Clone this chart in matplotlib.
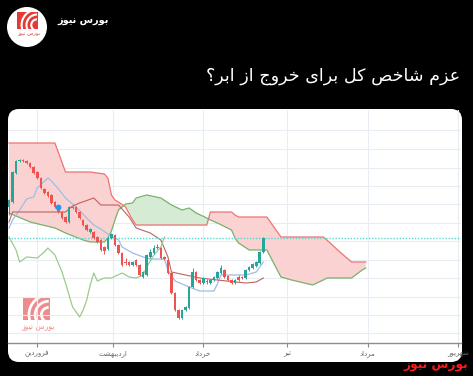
import numpy as np
import matplotlib
matplotlib.use("Agg")
import matplotlib.pyplot as plt
from matplotlib.patches import FancyBboxPatch, Circle, Rectangle, Wedge
from matplotlib.transforms import blended_transform_factory

# ---------------- data (index points, thousands) ----------------
opens = [1236, 1241, 1270, 1282, 1283, 1282, 1280, 1276, 1271, 1265, 1254, 1251, 1248, 1241, 1236, 1231,
         1226, 1221, 1236, 1236, 1231, 1223, 1218, 1211, 1211, 1206, 1203, 1196, 1194, 1205, 1208, 1198,
         1190, 1181, 1181, 1178, 1183, 1178, 1166, 1168, 1186, 1190, 1195, 1195, 1186, 1183, 1170, 1150,
         1133, 1125, 1133, 1135, 1156, 1171, 1163, 1160, 1161, 1160, 1163, 1165, 1170, 1173, 1167, 1163,
         1160, 1166, 1166, 1165, 1173, 1175, 1177, 1180, 1191]
closes = [1243, 1271, 1282, 1283, 1282, 1280, 1276, 1270, 1265, 1255, 1250, 1247, 1240, 1236, 1231, 1225,
          1221, 1236, 1235, 1231, 1225, 1218, 1213, 1214, 1205, 1201, 1193, 1192, 1205, 1209, 1198, 1190,
          1178, 1180, 1178, 1181, 1178, 1168, 1171, 1188, 1191, 1195, 1196, 1185, 1184, 1170, 1150, 1133,
          1125, 1133, 1136, 1156, 1171, 1163, 1160, 1165, 1161.5, 1163, 1166, 1171, 1175, 1166, 1163, 1160,
          1163, 1163, 1165, 1173, 1176, 1179, 1181, 1191, 1205]
highs = [1244, 1272, 1283, 1284, 1284, 1283, 1281, 1277, 1272, 1266, 1255, 1252, 1249, 1242, 1237, 1232,
         1227, 1237, 1237, 1237, 1232, 1224, 1219, 1215, 1212, 1207, 1204, 1197, 1206, 1210, 1209, 1199,
         1191, 1185, 1182, 1182, 1184, 1179, 1172, 1189, 1194, 1198, 1199, 1196, 1187, 1184, 1171, 1151,
         1134, 1134, 1137, 1157, 1175, 1172, 1164, 1166, 1164, 1164, 1167, 1172, 1178, 1174, 1168, 1164,
         1164, 1168, 1167, 1174, 1177, 1180, 1182, 1192, 1206]
lows = [1228, 1240, 1269, 1281, 1281, 1279, 1275, 1269, 1264, 1254, 1249, 1246, 1239, 1235, 1230, 1224,
        1220, 1220, 1234, 1230, 1224, 1217, 1212, 1210, 1204, 1200, 1192, 1189, 1193, 1204, 1197, 1189,
        1177, 1178, 1177, 1177, 1177, 1167, 1165, 1167, 1185, 1189, 1194, 1184, 1183, 1169, 1149, 1132,
        1124, 1124, 1132, 1134, 1155, 1162, 1159, 1159, 1159, 1159, 1162, 1164, 1169, 1165, 1162, 1159,
        1159, 1162, 1164, 1164, 1172, 1174, 1176, 1179, 1190]

# Ichimoku cloud (Senkou A / Senkou B), on a shared set of day positions
cloud_x = [0, 6, 13, 16, 21, 23, 27, 28, 29, 30, 31, 33, 35, 36, 39, 43, 46, 49, 51, 53, 56, 57, 59,
           63, 64, 65, 68, 73, 77, 80, 86, 89, 90, 94, 97, 100, 101]
span_a = [1230, 1221, 1215, 1210, 1203, 1201, 1201, 1205, 1212, 1223, 1233, 1239, 1240, 1245, 1248, 1245,
          1238, 1233, 1235, 1230, 1225, 1223, 1220, 1213, 1205, 1200, 1193, 1193, 1166, 1163, 1158, 1163,
          1165, 1165, 1165, 1173, 1175]
span_b = [1300, 1300, 1300, 1271, 1271, 1271, 1269, 1265, 1248, 1243, 1241, 1236, 1223, 1218, 1218, 1218,
          1218, 1218, 1218, 1218, 1218, 1231, 1231, 1231, 1228, 1226, 1226, 1226, 1206, 1206, 1206, 1206,
          1203, 1190, 1181, 1181, 1181]

tenkan_x = [0, 1, 3, 5, 7, 8, 11, 12, 14, 16, 19, 22, 24, 26, 28, 31, 32, 35, 38, 40, 44, 45, 47, 51, 54,
            58, 59, 60, 67, 70, 72]
tenkan = [1215, 1223, 1233, 1244, 1246, 1255, 1265, 1262, 1254, 1245, 1236, 1225, 1218, 1214, 1209, 1203,
          1196, 1190, 1186, 1184, 1184, 1173, 1162, 1156, 1152, 1152, 1159, 1168, 1168, 1171, 1181]

kijun_x = [0, 1, 16, 18, 20, 24, 26, 31, 34, 36, 40, 43, 45, 46, 50, 54, 59, 67, 70, 72]
kijun = [1221, 1231, 1231, 1237, 1240, 1245, 1238, 1238, 1226, 1215, 1210, 1203, 1186, 1171, 1168, 1165,
         1163, 1160, 1161, 1165]

chikou_x = [0, 2, 3, 5, 8, 10, 11, 13, 15, 16, 18, 20, 21, 22, 23, 24, 25, 27, 29, 32, 34, 36, 38, 39,
            41, 43, 44]
chikou = [1206, 1193, 1181, 1186, 1185, 1191, 1195, 1188, 1171, 1160, 1136, 1126, 1133, 1143, 1158, 1170,
          1162, 1165, 1165, 1170, 1166, 1165, 1168, 1176, 1188, 1196, 1206]

signal_x = [14]
signal_y = [1236]
last_price = 1205

month_pos = [7.9, 29.4, 54.9, 78.7, 101.6, 127.1]
month_names = ["فروردین", "اردیبهشت", "خرداد", "تیر", "مرداد", "شهریور"]
price_grid = [1109.7, 1128, 1146.3, 1164.7, 1183, 1201.7, 1220.3, 1238.7, 1257, 1275.3, 1294, 1313]

title_text = "عزم شاخص کل برای خروج از ابر؟"
brand_text = "بورس نیوز"

# ---------------- Persian shaping (presentation forms, visual order) ----------------
FORMS = {
    'ا': ('\uFE8D', '\uFE8E', None, None),
    'ب': ('\uFE8F', '\uFE90', '\uFE91', '\uFE92'),
    'ت': ('\uFE95', '\uFE96', '\uFE97', '\uFE98'),
    'ج': ('\uFE9D', '\uFE9E', '\uFE9F', '\uFEA0'),
    'خ': ('\uFEA5', '\uFEA6', '\uFEA7', '\uFEA8'),
    'د': ('\uFEA9', '\uFEAA', None, None),
    'ر': ('\uFEAD', '\uFEAE', None, None),
    'ز': ('\uFEAF', '\uFEB0', None, None),
    'س': ('\uFEB1', '\uFEB2', '\uFEB3', '\uFEB4'),
    'ش': ('\uFEB5', '\uFEB6', '\uFEB7', '\uFEB8'),
    'ص': ('\uFEB9', '\uFEBA', '\uFEBB', '\uFEBC'),
    'ع': ('\uFEC9', '\uFECA', '\uFECB', '\uFECC'),
    'ف': ('\uFED1', '\uFED2', '\uFED3', '\uFED4'),
    '\u06A9': ('\uFB8E', '\uFB8F', '\uFB90', '\uFB91'),
    'ل': ('\uFEDD', '\uFEDE', '\uFEDF', '\uFEE0'),
    'م': ('\uFEE1', '\uFEE2', '\uFEE3', '\uFEE4'),
    'ن': ('\uFEE5', '\uFEE6', '\uFEE7', '\uFEE8'),
    'ه': ('\uFEE9', '\uFEEA', '\uFEEB', '\uFEEC'),
    'و': ('\uFEED', '\uFEEE', None, None),
    '\u06CC': ('\uFBFC', '\uFBFD', '\uFBFE', '\uFBFF'),
}


def shape_fa(s):
    s = s.replace('\u064A', '\u06CC').replace('\u0643', '\u06A9')
    out = []
    for i, c in enumerate(s):
        if c not in FORMS:
            out.append(c)
            continue
        prev = s[i - 1] if i > 0 else ''
        nxt = s[i + 1] if i + 1 < len(s) else ''
        jp = prev in FORMS and FORMS[prev][2] is not None
        jn = FORMS[c][2] is not None and nxt in FORMS
        f = FORMS[c]
        if jp and jn:
            out.append(f[3])
        elif jp:
            out.append(f[1])
        elif jn:
            out.append(f[2])
        else:
            out.append(f[0])
    return ''.join(out)[::-1]


FONT = ['DejaVu Sans']
plt.rcParams['font.family'] = FONT

# ---------------- figure ----------------
W, H = 473, 376
fig = plt.figure(figsize=(W / 100, H / 100), dpi=100, facecolor='black')
bg = fig.add_axes([0, 0, 1, 1], zorder=0)
bg.set_xlim(0, W)
bg.set_ylim(H, 0)
bg.axis('off')
bg.set_facecolor('black')

box = FancyBboxPatch((8, 109), 454, 253, boxstyle='round,pad=0,rounding_size=11',
                     fc='white', ec='none', zorder=1)
bg.add_patch(box)


def draw_logo(axx, x0, y0, s, col, alpha, tsize, z):
    r = Rectangle((x0, y0), s, s * 0.82, fc=col, ec='none', alpha=alpha, zorder=z)
    axx.add_patch(r)
    cx, cy = x0 + s * 0.95, y0 + s * 0.62
    for rad, wd in [(s * 0.78, s * 0.1), (s * 0.55, s * 0.1), (s * 0.32, s * 0.1)]:
        w = Wedge((cx, cy), rad, 90, 270, width=wd, fc='white', ec='none', zorder=z + 0.1)
        axx.add_patch(w)
        w.set_clip_path(r)
    axx.text(x0 + s * 0.55, y0 + s * 0.82 + tsize * 1.2, shape_fa(brand_text), color=col,
             fontsize=tsize, ha='center', va='center', alpha=alpha, zorder=z)


# avatar
bg.add_patch(Circle((27, 27), 20, fc='white', ec='none', zorder=2))
draw_logo(bg, 17, 12, 21, '#e53935', 1.0, 3.8, 3)

bg.text(57, 21, shape_fa(brand_text), color='white', fontsize=7, fontweight='bold',
        ha='left', va='center', zorder=3)
bg.text(460, 76, shape_fa(title_text), color='white', fontsize=12.6, ha='right', va='center', zorder=3)

# chart watermark
draw_logo(bg, 23, 298, 27, '#ec8080', 0.9, 5.5, 2)

# ---------------- chart axes ----------------
px_per = (263.3 - 9) / 72.0
ax = fig.add_axes([8 / W, (H - 343) / H, 453 / W, (343 - 110) / H], zorder=1)
ax.patch.set_alpha(0)
ax.set_xlim((8 - 9) / px_per, (461 - 9) / px_per)
ax.set_ylim(1100, 1333)
for sp in ['left', 'right', 'top']:
    ax.spines[sp].set_visible(False)
ax.spines['bottom'].set_color('#8c8c8c')
ax.spines['bottom'].set_linewidth(1.0)
ax.set_yticks(price_grid)
ax.set_xticks(month_pos)
ax.tick_params(axis='y', length=0, labelleft=False)
ax.tick_params(axis='x', length=3, color='#8c8c8c', labelbottom=False)
ax.grid(True, color='#e8edf4', linewidth=0.8, zorder=0)
ax.set_axisbelow(True)

cx_arr = np.array(cloud_x, dtype=float)
a_arr = np.array(span_a, dtype=float)
b_arr = np.array(span_b, dtype=float)
ax.fill_between(cx_arr, a_arr, b_arr, where=b_arr >= a_arr, interpolate=True,
                color='#fbd2d2', linewidth=0, zorder=1)
ax.fill_between(cx_arr, a_arr, b_arr, where=a_arr > b_arr, interpolate=True,
                color='#d6ebd3', linewidth=0, zorder=1)
ax.plot(cx_arr, b_arr, color='#ef7373', lw=0.9, zorder=2)
ax.plot(cx_arr, a_arr, color='#78b06b', lw=0.9, zorder=2)
ax.plot(tenkan_x, tenkan, color='#9dbde6', lw=0.9, zorder=2)
ax.plot(kijun_x, kijun, color='#bf6262', lw=0.8, zorder=2)
ax.plot(chikou_x, chikou, color='#9ccb8d', lw=0.9, zorder=2)
ax.axhline(last_price, color='#59d6d0', ls=(0, (1, 1.2)), lw=1.0, zorder=2)

idx = np.arange(len(opens))
o = np.array(opens, float)
c = np.array(closes, float)
up = c >= o
cols = np.where(up, '#26a69a', '#ef5350')
ax.vlines(idx, lows, highs, colors=cols, lw=0.7, zorder=3)
body_lo = np.minimum(o, c)
body_h = np.maximum(np.abs(c - o), 0.9)
ax.bar(idx, body_h, bottom=body_lo, width=0.72, color=cols, linewidth=0, zorder=4)
ax.plot(signal_x, signal_y, 'o', color='#2196f3', ms=3.2, zorder=5)

# month labels (clipped to the white card)
trans = blended_transform_factory(ax.transData, bg.transData)
for p, name in zip(month_pos, month_names):
    t = bg.text(p, 354, shape_fa(name), transform=trans, fontsize=5, color='#666666',
                ha='center', va='center', zorder=3)
    t.set_clip_path(box)

# bottom-right brand
bg.text(468, 365, shape_fa(brand_text), color='#ff1a1a', fontsize=8.8, fontweight='bold',
        ha='right', va='center', zorder=10)

fig.savefig('out.png', dpi=100, facecolor='black')
